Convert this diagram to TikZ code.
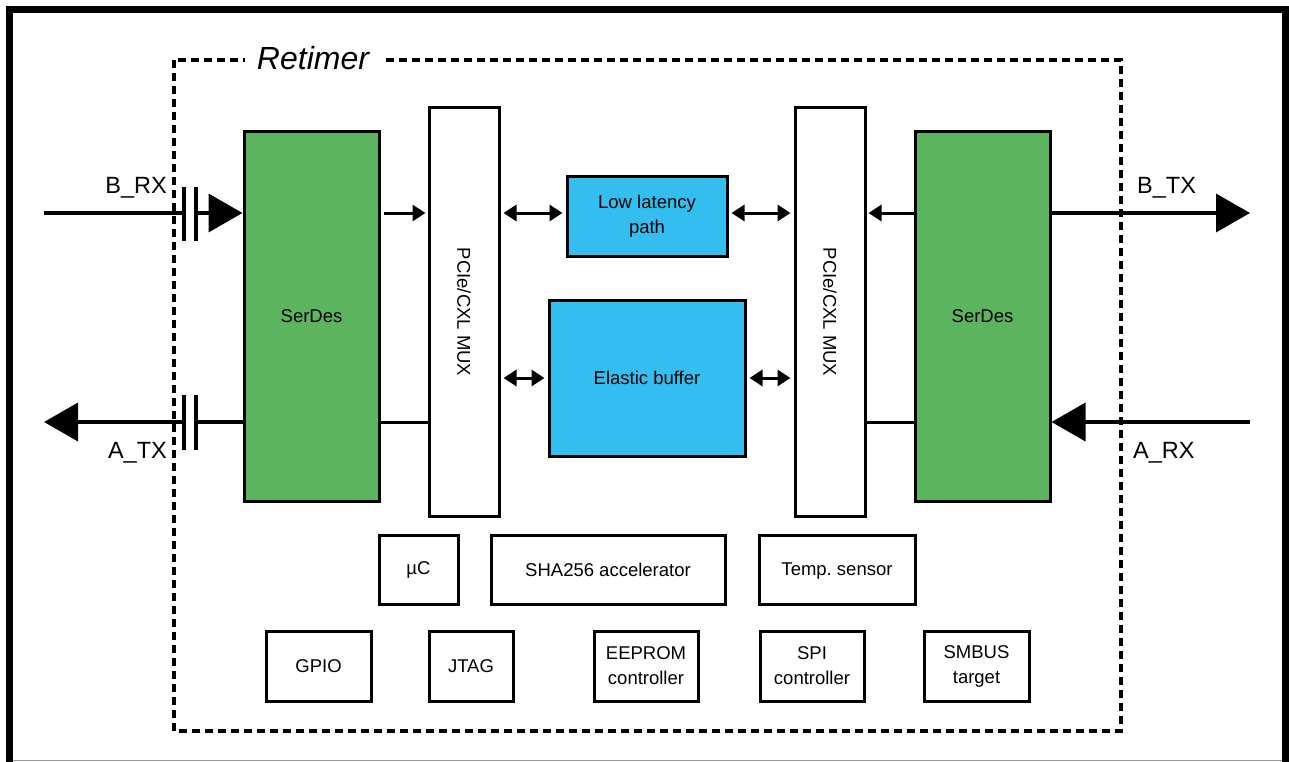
\documentclass[tikz,border=0pt]{standalone}
\usepackage{fontspec}
\setmainfont{Liberation Sans}
\usetikzlibrary{arrows.meta,calc}
\definecolor{sdgreen}{RGB}{93,180,94}
\definecolor{bufblue}{RGB}{52,190,240}
\begin{document}
\begin{tikzpicture}[x=1pt,y=-1pt,
  box/.style={draw=black,line width=3pt,inner sep=0pt,align=center,
    font=\fontsize{18.5}{25}\selectfont},
  serdes/.style={box,fill=sdgreen,minimum width=135pt,minimum height=369pt},
  muxbox/.style={box,fill=white,minimum width=70pt,minimum height=408pt},
  bluebox/.style={box,fill=bufblue},
  small/.style={box,minimum height=69pt},
  sig/.style={line width=3.8pt},
  bigtip/.style={-{Triangle[length=34pt,width=38pt]}},
  link/.style={line width=3pt,-{Triangle[length=13pt,width=16pt]},shorten >=2pt},
  dlink/.style={line width=3pt,{Triangle[length=13pt,width=16pt]}-{Triangle[length=13pt,width=16pt]},shorten >=3pt,shorten <=3pt},
  plate/.style={line width=3.8pt},
  lbl/.style={font=\fontsize{23.5}{28}\selectfont,inner sep=0pt}
]
\useasboundingbox (0,0) rectangle (1289,762);
% outer frame
\draw[line width=7pt] (9.5,762) -- (9.5,9.5) -- (1285.5,9.5) -- (1285.5,762);
\draw[line width=1.5pt,black!40] (13,760.5) -- (1282,760.5);
% retimer dashed box
\draw[line width=3.2pt,dash pattern=on 8pt off 5pt] (174,60) rectangle (1121,731);
\node[fill=white,inner xsep=12pt,inner ysep=2pt,font=\fontsize{32}{36}\selectfont\itshape] (title) at (313,58) {Retimer};

% main blocks
\node[serdes] (serL) at (311.5,316.5) {\raisebox{-2pt}{SerDes}};
\node[serdes] (serR) at (982.5,316.5) {\raisebox{-2pt}{SerDes}};
\node[muxbox] (muxL) at (464,312) {};
\node[muxbox] (muxR) at (830,312) {};
\node[rotate=-90,font=\fontsize{18.5}{25}\selectfont] (muxLt) at (muxL) {PCIe/CXL MUX};
\node[rotate=-90,font=\fontsize{18.5}{25}\selectfont] (muxRt) at (muxR) {PCIe/CXL MUX};
\node[bluebox,minimum width=160pt,minimum height=79pt] (low) at (647,216.5) {Low latency\\path};
\node[bluebox,minimum width=196pt,minimum height=156pt] (elastic) at (647,378) {Elastic buffer};

% small blocks
\node[small,minimum width=79pt] (uc) at (418.5,569.5) {µC};
\node[small,minimum width=234pt] (sha) at (608,569.5) {SHA256 accelerator};
\node[small,minimum width=156pt] (temp) at (837,569.5) {\raisebox{0pt}[\height][0pt]{Temp.\ sensor}};
\node[small,minimum width=105pt,minimum height=70pt] (gpio) at (318.5,666) {GPIO};
\node[small,minimum width=84pt,minimum height=70pt] (jtag) at (471,666) {JTAG};
\node[small,minimum width=104pt,minimum height=70pt] (eeprom) at (646,666) {EEPROM\\controller};
\node[small,minimum width=104pt,minimum height=70pt] (spi) at (812,666) {SPI\\controller};
\node[small,minimum width=105pt,minimum height=70pt] (smbus) at (976.5,666) {SMBUS\\target};

% rows
\coordinate (rowA) at (0,213);
\coordinate (rowB) at (0,422);
\coordinate (rowC) at (0,378);

% external signal ends
\coordinate (brxin) at (44,213);
\coordinate (atxout) at (44,422);
\coordinate (btxout) at (1250,213);
\coordinate (arxin) at (1250,422);
\coordinate (capA1) at (184,213);
\coordinate (capA2) at (196,213);
\coordinate (capB1) at (184,422);
\coordinate (capB2) at (196,422);

% B_RX with capacitor
\draw[sig] (brxin) -- (capA1);
\draw[plate] ($(capA1)+(0,-26)$) -- ($(capA1)+(0,28)$);
\draw[plate] ($(capA2)+(0,-26)$) -- ($(capA2)+(0,28)$);
\draw[sig,bigtip] (capA2) -- (serL.west |- rowA);
\node[lbl,anchor=east] (brx) at (167,188) {B\_RX};

% A_TX with capacitor
\draw[sig] (serL.west |- rowB) -- (capB2);
\draw[plate] ($(capB1)+(0,-27)$) -- ($(capB1)+(0,28)$);
\draw[plate] ($(capB2)+(0,-27)$) -- ($(capB2)+(0,28)$);
\draw[sig,bigtip] (capB1) -- (atxout);
\node[lbl,anchor=east] (atx) at (167,453) {A\_TX};

% B_TX
\draw[sig,bigtip] (serR.east |- rowA) -- (btxout);
\node[lbl,anchor=west] (btx) at (1137,188) {B\_TX};

% A_RX
\draw[sig,bigtip] (arxin) -- (serR.east |- rowB);
\node[lbl,anchor=west] (arx) at (1133,453) {A\_RX};

% internal links
\draw[link] (serL.east |- rowA) ++(3,0) -- (muxL.west |- rowA);
\draw[line width=3pt] (serL.east |- rowB) -- (muxL.west |- rowB);
\draw[link] (serR.west |- rowA) -- (muxR.east |- rowA);
\draw[line width=3pt] (serR.west |- rowB) -- (muxR.east |- rowB);
\draw[dlink] (muxL.east |- rowA) -- (low.west |- rowA);
\draw[dlink] (low.east |- rowA) -- (muxR.west |- rowA);
\draw[dlink] (muxL.east |- rowC) -- (elastic.west |- rowC);
\draw[dlink] (elastic.east |- rowC) -- (muxR.west |- rowC);
\end{tikzpicture}
\end{document}
